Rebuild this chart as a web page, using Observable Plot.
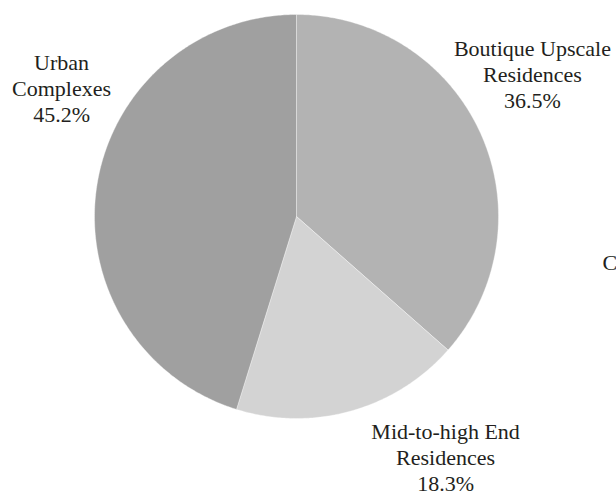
<!DOCTYPE html>
<html>
<head>
<meta charset="utf-8">
<script src="https://cdn.jsdelivr.net/npm/d3@7"></script>
<script src="https://cdn.jsdelivr.net/npm/@observablehq/plot@0.6"></script>
<style>
  html, body { margin: 0; padding: 0; background: #fff; overflow: hidden; }
</style>
</head>
<body>
<div id="chart"></div>
<script>
const categories = ["Boutique Upscale Residences", "Mid-to-high End Residences", "Urban Complexes"];
const labelLines = ["Boutique Upscale\nResidences", "Mid-to-high End\nResidences", "Urban\nComplexes"];
const shares = [36.5, 18.3, 45.2];
const colors = ["#b3b3b3", "#d3d3d3", "#a0a0a0"];
// label anchor positions in unit-circle coordinates (radius = 1)
const labelX = [1.168, 0.738, -1.163];
const labelY = [0.708, -1.19, 0.636];
const sideLabel = ["C"];

const W = 616, H = 496, R = 202, CX = 296, CY = 216;

const pie = d3.pie().sort(null).value(d => d)(shares);
const polys = [];
pie.forEach((p, i) => {
  const n = Math.max(2, Math.ceil((p.endAngle - p.startAngle) / 0.01));
  polys.push({cat: categories[i], x: 0, y: 0});
  for (let k = 0; k <= n; k++) {
    const a = p.startAngle + (p.endAngle - p.startAngle) * k / n;
    polys.push({cat: categories[i], x: Math.sin(a), y: Math.cos(a)});
  }
  polys.push({cat: categories[i], x: 0, y: 0});
});

const labels = categories.map((c, i) => ({
  cat: c,
  x: labelX[i],
  y: labelY[i],
  text: labelLines[i] + "\n" + shares[i].toFixed(1) + "%"
}));

const chart = Plot.plot({
  width: W,
  height: H,
  margin: 0,
  x: {domain: [-CX / R, (W - CX) / R], range: [0, W], axis: null},
  y: {domain: [-(H - CY) / R, CY / R], range: [H, 0], axis: null},
  color: {domain: categories, range: colors},
  style: {fontFamily: "'Liberation Serif', 'Times New Roman', serif", background: "#fff"},
  marks: [
    Plot.line(polys, {x: "x", y: "y", z: "cat", fill: "cat", stroke: "#ffffff", strokeWidth: 0.6, strokeOpacity: 0.6, curve: "linear"}),
    Plot.text(labels, {x: "x", y: "y", text: "text", fontSize: 22, lineHeight: 1.18, fill: "#231f20", textAnchor: "middle"}),
    Plot.text(sideLabel, {x: (602 - CX) / R, y: (CY - 262) / R, text: d => d, fontSize: 22, fill: "#231f20", textAnchor: "start"})
  ]
});
document.getElementById("chart").appendChild(chart);
</script>
</body>
</html>
